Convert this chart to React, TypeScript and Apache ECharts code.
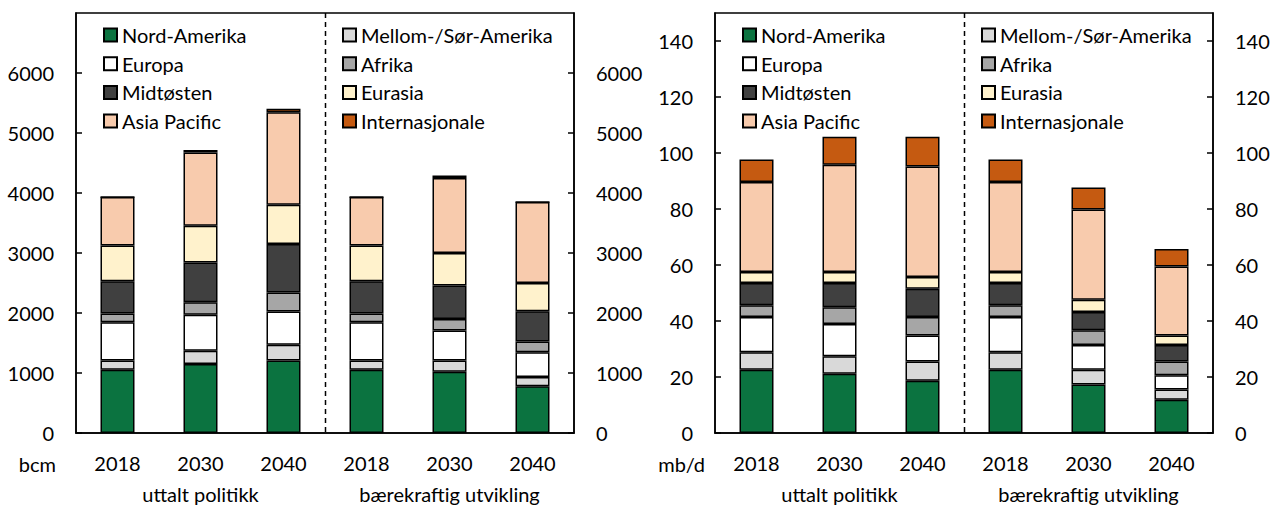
import React, { useEffect, useRef } from "react";
import * as echarts from "echarts";

const categories = ["2018", "2030", "2040", "2018", "2030", "2040"];
const scenarios = ["uttalt politikk", "bærekraftig utvikling"];
const regions = [
  "Nord-Amerika",
  "Mellom-/Sør-Amerika",
  "Europa",
  "Afrika",
  "Midtøsten",
  "Eurasia",
  "Asia Pacific",
  "Internasjonale",
];
const legendLeft = ["Nord-Amerika", "Europa", "Midtøsten", "Asia Pacific"];
const legendRight = ["Mellom-/Sør-Amerika", "Afrika", "Eurasia", "Internasjonale"];

// Gas (bcm)
const gasNordAmerika = [1055, 1150, 1210, 1055, 1020, 780];
const gasMellomSor = [155, 220, 260, 155, 190, 155];
const gasEuropa = [635, 600, 555, 635, 500, 410];
const gasAfrika = [145, 210, 315, 145, 190, 180];
const gasMidtosten = [540, 660, 810, 540, 560, 505];
const gasEurasia = [595, 615, 655, 595, 540, 470];
const gasAsiaPacific = [810, 1220, 1540, 810, 1250, 1350];
const gasInternasjonale = [0, 40, 60, 0, 40, 0];

// Oil (mb/d)
const oilNordAmerika = [22.6, 21.2, 18.7, 22.6, 17.3, 11.9];
const oilMellomSor = [6.2, 6.2, 6.8, 6.2, 5.3, 3.6];
const oilEuropa = [12.6, 11.5, 9.3, 12.6, 8.8, 5.1];
const oilAfrika = [4.2, 6.0, 6.6, 4.2, 5.3, 4.9];
const oilMidtosten = [8.0, 8.7, 10.1, 8.0, 6.5, 5.9];
const oilEurasia = [3.9, 3.9, 4.2, 3.9, 4.4, 3.4];
const oilAsiaPacific = [32.1, 38.3, 39.5, 32.1, 32.2, 24.7];
const oilInternasjonale = [8.1, 10.0, 10.6, 8.1, 7.9, 6.2];

const gasData = [
  gasNordAmerika,
  gasMellomSor,
  gasEuropa,
  gasAfrika,
  gasMidtosten,
  gasEurasia,
  gasAsiaPacific,
  gasInternasjonale,
];
const oilData = [
  oilNordAmerika,
  oilMellomSor,
  oilEuropa,
  oilAfrika,
  oilMidtosten,
  oilEurasia,
  oilAsiaPacific,
  oilInternasjonale,
];

const colors = [
  "#0b7340",
  "#d9d9d9",
  "#ffffff",
  "#a6a6a6",
  "#404040",
  "#fff2cc",
  "#f8cbad",
  "#c55a11",
];

const FONT = "Lato";
const FS = 20;

export default function App() {
  const ref = useRef<HTMLDivElement>(null);

  useEffect(() => {
    if (!ref.current) return;
    const chart = echarts.init(ref.current, undefined, { renderer: "svg" });

    const gridW = 498;
    const grids = [
      { left: 76, top: 13, width: gridW, height: 420 },
      { left: 715, top: 13, width: gridW, height: 420 },
    ].map((g) => ({
      ...g,
      show: true,
      borderColor: "#000",
      borderWidth: 1.5,
      backgroundColor: "transparent",
    }));

    const labelStyle = { color: "#000", fontFamily: FONT, fontSize: FS };

    const xAxes: any[] = [];
    [0, 1].forEach((gi) => {
      xAxes.push({
        type: "category",
        gridIndex: gi,
        data: categories,
        axisLine: { lineStyle: { color: "#000", width: 1.5 } },
        axisTick: { show: false },
        axisLabel: { ...labelStyle, margin: 20 },
      });
      xAxes.push({
        type: "category",
        gridIndex: gi,
        data: scenarios,
        position: "bottom",
        offset: 31,
        axisLine: { show: false },
        axisTick: { show: false },
        axisLabel: { ...labelStyle, margin: 20 },
      });
    });

    const yDefs = [
      { gi: 0, max: 7000, interval: 1000 },
      { gi: 1, max: 150, interval: 20 },
    ];
    const yAxes: any[] = [];
    yDefs.forEach((d) => {
      ["left", "right"].forEach((pos) => {
        yAxes.push({
          type: "value",
          gridIndex: d.gi,
          position: pos,
          min: 0,
          max: d.max,
          interval: d.interval,
          splitLine: { show: false },
          axisLine: { show: true, lineStyle: { color: "#000", width: 1.5 } },
          axisTick: {
            show: true,
            inside: true,
            length: 6,
            lineStyle: { color: "#000", width: 1.5 },
          },
          axisLabel: {
            ...labelStyle,
            margin: 22,
            showMaxLabel: false,
            formatter: (v: number) => String(v),
          },
        });
      });
    });

    const series: any[] = [];
    const addSeries = (data: number[][], gi: number, stack: string) => {
      data.forEach((vals, i) => {
        series.push({
          type: "bar",
          name: regions[i],
          stack,
          xAxisIndex: gi * 2,
          yAxisIndex: gi * 2,
          data: vals,
          barWidth: 34,
          itemStyle: {
            color: colors[i],
            borderColor: "#000",
            borderWidth: 1.5,
          },
          emphasis: { disabled: true },
        });
      });
    };
    addSeries(gasData, 0, "gas");
    addSeries(oilData, 1, "oil");

    const legendBase = {
      orient: "vertical",
      top: 25,
      padding: 0,
      icon: "rect",
      itemWidth: 13,
      itemHeight: 13,
      itemGap: 8.7,
      selectedMode: false,
      textStyle: { ...labelStyle, lineHeight: 20 },
    };

    const legends = [
      { ...legendBase, left: 103, data: legendLeft },
      { ...legendBase, left: 342, data: legendRight },
      { ...legendBase, left: 742, data: legendLeft },
      { ...legendBase, left: 981, data: legendRight },
    ];

    const unitText = (text: string, x: number) => ({
      type: "text",
      x,
      y: 464,
      style: {
        text,
        fill: "#000",
        font: `${FS}px ${FONT}`,
        align: "right",
        verticalAlign: "middle",
      },
    });

    chart.setOption({
      animation: false,
      backgroundColor: "#fff",
      textStyle: { fontFamily: FONT },
      grid: grids,
      xAxis: xAxes,
      yAxis: yAxes,
      legend: legends,
      series,
    });

    // scenario divider between the 3rd and 4th category, via the axes' scales
    const dividers = [0, 1].map((gi) => {
      const xa = chart.convertToPixel({ xAxisIndex: gi * 2 }, 2) as number;
      const xb = chart.convertToPixel({ xAxisIndex: gi * 2 }, 3) as number;
      const x = Math.round((xa + xb) / 2) + 0.5;
      const y0 = chart.convertToPixel({ yAxisIndex: gi * 2 }, 0) as number;
      const y1 = chart.convertToPixel(
        { yAxisIndex: gi * 2 },
        yDefs[gi].max
      ) as number;
      return {
        type: "line",
        shape: { x1: x, y1: y1, x2: x, y2: y0 },
        style: { stroke: "#000", lineWidth: 1.5, lineDash: [5, 4] },
        z: 10,
      };
    });

    chart.setOption({
      graphic: [unitText("bcm", 56), unitText("mb/d", 705), ...dividers],
    });

    return () => chart.dispose();
  }, []);

  return (
    <div
      ref={ref}
      style={{ position: "fixed", left: 0, top: 0, width: 1273, height: 506 }}
    />
  );
}
